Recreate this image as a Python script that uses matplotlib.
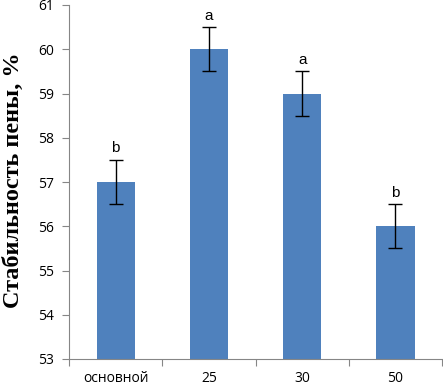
import numpy as np
import matplotlib
matplotlib.use("Agg")
import matplotlib.pyplot as plt

categories = ["основной", "25", "30", "50"]
values = [57, 60, 59, 56]
errors = [0.5, 0.5, 0.5, 0.5]
letters = ["b", "a", "a", "b"]

fig = plt.figure(figsize=(4.43, 3.87), dpi=100)
ax = fig.add_axes([69 / 443, 1 - 359 / 387, 1 - 69 / 443 - 0.002, (359 - 5) / 387])

x = np.arange(len(categories))
ax.bar(x, values, width=0.41, bottom=0, color="#4F81BD", zorder=2)
ax.errorbar(x, values, yerr=errors, fmt="none", ecolor="black",
            elinewidth=1, capsize=5, capthick=1, zorder=3)

for xi, v, e, lab in zip(x, values, errors, letters):
    ax.text(xi, v + e + 0.1, lab, ha="center", va="bottom",
            fontsize=11, family="Liberation Sans")

ax.set_xlim(-0.5, len(categories) - 0.5)
ax.set_ylim(53, 61)
ax.set_yticks(range(53, 62))
ax.set_xticks(np.arange(len(categories) + 1) - 0.5, minor=False)
ax.set_xticklabels([])
ax.set_xticks(x, minor=True)
ax.set_xticklabels(categories, minor=True, family="Open Sans", fontsize=10)
ax.tick_params(axis="x", which="minor", length=0, pad=9)
ax.tick_params(axis="x", which="major", direction="out", length=5, color="#868686")
ax.tick_params(axis="y", direction="out", length=5, color="#868686", pad=6)
for lbl in ax.get_yticklabels():
    lbl.set_family("Open Sans")
    lbl.set_fontsize(10)

for s in ["top", "right"]:
    ax.spines[s].set_visible(False)
for s in ["left", "bottom"]:
    ax.spines[s].set_color("#868686")

ax.set_ylabel("Стабильность пены, %", family="Liberation Serif",
              fontweight="bold", fontsize=17.5)
ax.yaxis.set_label_coords(-0.122, 0.505)

fig.savefig("out.png", dpi=100)
